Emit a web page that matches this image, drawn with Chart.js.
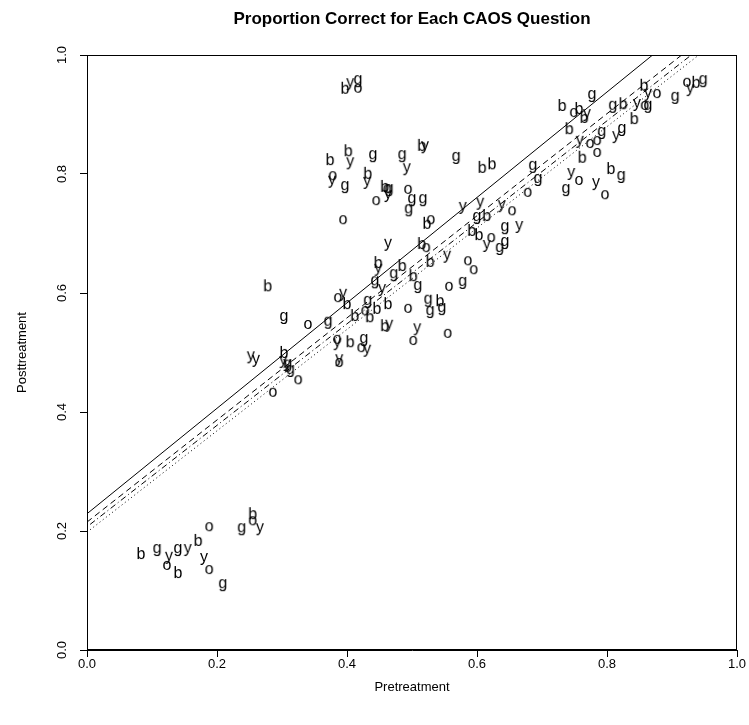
<!DOCTYPE html>
<html><head><meta charset="utf-8">
<script src="https://cdn.jsdelivr.net/npm/chart.js@4"></script>
<style>html,body{margin:0;padding:0;background:#fff}</style>
</head><body>
<canvas id="c" width="749" height="725"></canvas>
<script>
// ---- data ----
const titleText = 'Proportion Correct for Each CAOS Question';
const xTitle = 'Pretreatment';
const yTitle = 'Posttreatment';
const tickValues = [0.0, 0.2, 0.4, 0.6, 0.8, 1.0];

const bPre  = [0.083,0.171,0.140,0.255,0.278,0.303,0.400,0.412,0.446,0.435,0.463,0.458,0.405,0.448,0.485,0.502,0.543,0.528,0.515,0.523,0.592,0.603,0.615,0.608,0.623,0.515,0.374,0.402,0.432,0.458,0.397,0.731,0.757,0.765,0.742,0.825,0.857,0.842,0.762,0.806,0.937];
const bPost = [0.163,0.185,0.131,0.230,0.613,0.501,0.583,0.563,0.575,0.561,0.583,0.546,0.519,0.652,0.647,0.630,0.588,0.654,0.684,0.718,0.706,0.699,0.731,0.812,0.818,0.849,0.825,0.840,0.802,0.780,0.945,0.916,0.911,0.896,0.877,0.919,0.950,0.894,0.829,0.810,0.955];

const gPre  = [0.108,0.140,0.209,0.238,0.303,0.309,0.313,0.371,0.432,0.426,0.443,0.472,0.509,0.525,0.528,0.546,0.578,0.495,0.500,0.517,0.600,0.643,0.643,0.635,0.686,0.694,0.568,0.440,0.485,0.397,0.465,0.417,0.777,0.809,0.863,0.905,0.948,0.792,0.823,0.822,0.737];
const gPost = [0.168,0.168,0.109,0.203,0.558,0.478,0.469,0.550,0.585,0.521,0.618,0.630,0.610,0.587,0.568,0.573,0.617,0.739,0.756,0.756,0.726,0.709,0.684,0.674,0.812,0.790,0.827,0.830,0.830,0.778,0.773,0.956,0.931,0.913,0.913,0.928,0.956,0.869,0.874,0.795,0.773];

const oPre  = [0.123,0.188,0.188,0.255,0.286,0.325,0.340,0.386,0.385,0.388,0.428,0.422,0.502,0.555,0.494,0.557,0.586,0.595,0.522,0.529,0.622,0.654,0.678,0.394,0.445,0.494,0.462,0.378,0.417,0.749,0.774,0.785,0.785,0.757,0.797,0.858,0.877,0.923];
const oPost = [0.143,0.208,0.136,0.218,0.434,0.455,0.548,0.593,0.523,0.484,0.571,0.509,0.521,0.533,0.575,0.612,0.655,0.640,0.677,0.724,0.694,0.739,0.770,0.724,0.756,0.775,0.776,0.798,0.945,0.904,0.852,0.857,0.837,0.790,0.766,0.916,0.936,0.955];

const yPre  = [0.126,0.155,0.180,0.266,0.252,0.260,0.302,0.308,0.394,0.385,0.388,0.431,0.465,0.508,0.454,0.448,0.463,0.554,0.615,0.665,0.578,0.605,0.638,0.520,0.405,0.492,0.377,0.431,0.463,0.405,0.769,0.846,0.863,0.814,0.758,0.745,0.783,0.928];
const yPost = [0.155,0.168,0.153,0.203,0.492,0.486,0.484,0.479,0.597,0.514,0.487,0.503,0.545,0.539,0.605,0.639,0.681,0.661,0.679,0.711,0.743,0.750,0.746,0.845,0.818,0.808,0.787,0.785,0.763,0.951,0.899,0.916,0.933,0.862,0.854,0.800,0.783,0.941];

// fitted lines: value at Pretreatment = 0 and at Pretreatment = 1
const lineNames = ['solid','dashed','dotdash','dotted'];
const lineAt0 = [0.229, 0.215, 0.207, 0.198];
const lineAt1 = [1.115, 1.073, 1.060, 1.050];

// ---- drawing ----
const FONT = '"Liberation Sans", Arial, Helvetica, sans-serif';
function letterImg(ch){
  const c = document.createElement('canvas');
  c.width = 26; c.height = 26;
  const g = c.getContext('2d');
  g.font = '16px ' + FONT;
  g.fillStyle = '#000';
  g.textAlign = 'center';
  const m = g.measureText(ch);
  const base = 13 + (m.actualBoundingBoxAscent - m.actualBoundingBoxDescent) / 2;
  g.fillText(ch, 13, base);
  return c;
}
function pts(xs, ys){ return xs.map((x,i)=>({x:x, y:ys[i]})); }
function letterSet(label, xs, ys){
  return {type:'scatter', label:label, data:pts(xs,ys), pointStyle:letterImg(label),
          pointRadius:5, pointHoverRadius:5, showLine:false};
}
const dashes = {solid:[], dashed:[6,4], dotdash:[1,3,6,3], dotted:[1,3]};
const lineSets = lineNames.map((n,i)=>({
  type:'line', label:n, data:[{x:0,y:lineAt0[i]},{x:1,y:lineAt1[i]}],
  borderColor:'#000', borderWidth:1, borderDash:dashes[n], pointRadius:0, fill:false, tension:0
}));

const textPlugin = {
  id:'rtext',
  afterDraw(chart){
    const ctx = chart.ctx, a = chart.chartArea;
    ctx.save();
    ctx.strokeStyle = '#000'; ctx.lineWidth = 1;
    ctx.strokeRect(a.left+0.5, a.top+0.5, a.right-a.left-1, a.bottom-a.top-1);
    ctx.fillStyle = '#000';
    const cx = (a.left + a.right)/2, cy = (a.top + a.bottom)/2;
    ctx.textAlign = 'center'; ctx.textBaseline = 'middle';
    ctx.font = 'bold 17px ' + FONT;
    ctx.fillText(titleText, cx, 19);
    ctx.font = '13px ' + FONT;
    ctx.fillText(xTitle, cx, 687);
    ctx.save(); ctx.translate(22, cy); ctx.rotate(-Math.PI/2); ctx.fillText(yTitle, 0, 0); ctx.restore();
    const ys = chart.scales.y;
    ys.ticks.forEach(t=>{
      const py = ys.getPixelForValue(t.value);
      ctx.save(); ctx.translate(62, py); ctx.rotate(-Math.PI/2);
      ctx.fillText(t.value.toFixed(1), 0, 0); ctx.restore();
    });
    ctx.restore();
  }
};

new Chart(document.getElementById('c'), {
  data:{ datasets:[
    letterSet('b', bPre, bPost), letterSet('g', gPre, gPost),
    letterSet('o', oPre, oPost), letterSet('y', yPre, yPost),
    ...lineSets ]},
  options:{
    responsive:false, animation:false, devicePixelRatio:1,
    events:[],
    layout:{padding:{top:55, right:12, bottom:0, left:0}},
    plugins:{legend:{display:false}, title:{display:false}, tooltip:{enabled:false}},
    scales:{
      x:{type:'linear', min:0, max:1,
         afterFit(s){ s.height = 75; },
         afterBuildTicks(s){ s.ticks = tickValues.map(v=>({value:v})); },
         ticks:{color:'#000', font:{size:13, family:FONT}, padding:0, maxRotation:0,
                callback:v=>Number(v).toFixed(1)},
         grid:{drawOnChartArea:false, drawTicks:true, tickLength:7, color:'#000'},
         border:{color:'#000'}},
      y:{type:'linear', min:0, max:1,
         afterFit(s){ s.width = 87; },
         afterBuildTicks(s){ s.ticks = tickValues.map(v=>({value:v})); },
         ticks:{display:false},
         grid:{drawOnChartArea:false, drawTicks:true, tickLength:7, color:'#000'},
         border:{color:'#000'}}
    }
  },
  plugins:[textPlugin]
});
</script>
</body></html>
